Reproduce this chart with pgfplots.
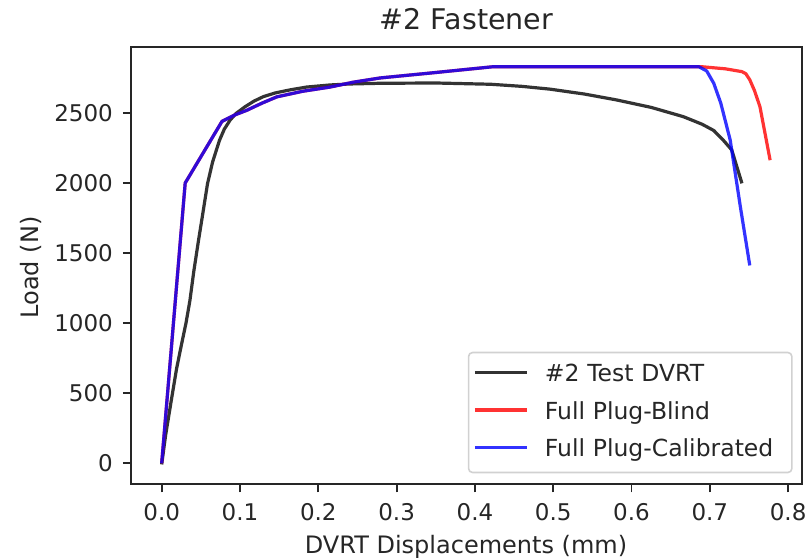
\documentclass[border=0pt]{standalone}
\usepackage{pgfplots}
\pgfplotsset{compat=1.18}
\usepackage{fontspec}
\setmainfont{DejaVu Sans}

% Load-displacement curves for the #2 fastener
\pgfplotstableread{
x      y
0.000  -8
0.005  200
0.012  440
0.019  675
0.025  840
0.031  1000
0.036  1160
0.041  1370
0.047  1590
0.053  1800
0.0585 1995
0.065  2150
0.0738 2305
0.080  2385
0.0875 2450
0.095  2497
0.1066 2545
0.118  2585
0.130  2617
0.145  2643
0.164  2665
0.185  2685
0.215  2700
0.240  2707
0.279  2712
0.350  2714
0.420  2705
0.460  2690
0.496  2670
0.540  2635
0.581  2593
0.625  2540
0.666  2474
0.690  2420
0.705  2375
0.717  2307
0.728  2236
0.741  1998
}\testdvrt

\pgfplotstableread{
x      y
0.000  0
0.030  2000
0.077  2440
0.093  2485
0.109  2520
0.128  2570
0.147  2615
0.180  2655
0.215  2685
0.245  2720
0.279  2750
0.343  2785
0.423  2830
0.690  2830
0.720  2815
0.741  2795
0.746  2780
0.751  2737
0.757  2660
0.764  2545
0.777  2163
}\plugblind

\pgfplotstableread{
x      y
0.000  0
0.030  2000
0.077  2440
0.093  2485
0.109  2520
0.128  2570
0.147  2615
0.180  2655
0.215  2685
0.245  2720
0.279  2750
0.343  2785
0.423  2830
0.686  2830
0.696  2800
0.705  2712
0.714  2570
0.726  2307
0.739  1830
0.751  1412
}\plugcalib

\begin{document}
\begin{tikzpicture}
\path[use as bounding box] (0pt,0pt) rectangle (812pt,-560pt);
\begin{axis}[
  at={(131pt,-484.3pt)}, anchor=south west,
  scale only axis, width=671pt, height=437.6pt,
  xmin=-0.0392, xmax=0.8177,
  ymin=-150, ymax=2973,
  axis line style={black!85, line width=1.8pt},
  tick pos=left, tick align=outside,
  major tick length=8pt,
  every tick/.style={black!85, line width=1.8pt},
  xtick={0,0.1,0.2,0.3,0.4,0.5,0.6,0.7,0.8},
  ytick={0,500,1000,1500,2000,2500},
  xticklabel style={/pgf/number format/fixed, /pgf/number format/fixed zerofill, /pgf/number format/precision=1},
  yticklabel style={/pgf/number format/fixed, /pgf/number format/set thousands separator={}},
  /pgf/number format/assume math mode=true,
  ticklabel style={font=\fontsize{23}{27}\selectfont, text=black!85},
  xticklabel style={anchor=north, inner sep=0pt, text height=16.7pt, text depth=0pt, yshift=-11.7pt},
  yticklabel style={anchor=east, inner sep=0pt, text height=16.7pt, text depth=0pt, xshift=-10pt},
  title={\#2 Fastener},
  title style={at={(axis description cs:0.5,1.0267)}, anchor=base, font=\fontsize{28.5}{33}\selectfont, text=black!85, inner sep=0pt},
  xlabel={DVRT Displacements (mm)},
  ylabel={Load (N)},
  xlabel style={at={(axis description cs:0.4993,-0.157)}, anchor=base, font=\fontsize{24}{28}\selectfont, text=black!85, inner sep=0pt},
  ylabel style={at={(axis description cs:-0.1379,0.4954)}, anchor=base, font=\fontsize{24}{28}\selectfont, text=black!85, inner sep=0pt},
  legend cell align=left,
  legend image code/.code={%
    \draw[#1] (0pt,9pt) -- (52pt,9pt);
    \path[draw=none] (0pt,0pt) -- (70pt,0pt);},
  legend style={
    at={(axis description cs:0.5019,0.303)}, anchor=north west,
    draw=black!18, line width=1.6pt, rounded corners=4pt,
    fill=white, fill opacity=0.8, text opacity=1,
    inner xsep=4.7pt, inner ysep=12pt,
    font=\fontsize{23.5}{28}\selectfont, text=black!85,
    row sep=16.5pt,
    nodes={inner sep=0pt, text height=17pt, text depth=4pt, text width=242.3pt, anchor=base west},
  },
]
\addplot[black, draw opacity=0.8, line width=3.2pt, line join=round] table[x=x, y=y] {\testdvrt};
\addlegendentry{\#2 Test DVRT}
\addplot[red, draw opacity=0.8, line width=3.2pt, line join=round] table[x=x, y=y] {\plugblind};
\addlegendentry{Full Plug-Blind}
\addplot[blue, draw opacity=0.8, line width=3.2pt, line join=round] table[x=x, y=y] {\plugcalib};
\addlegendentry{Full Plug-Calibrated}
\end{axis}
\end{tikzpicture}
\end{document}
